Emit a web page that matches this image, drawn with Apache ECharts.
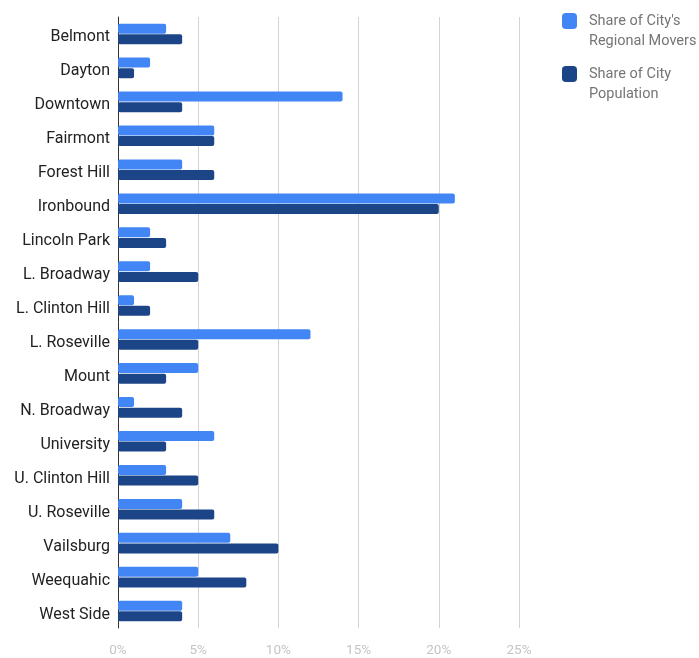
<!DOCTYPE html>
<html>
<head>
<meta charset="utf-8">
<script src="https://cdn.jsdelivr.net/npm/echarts@6/dist/echarts.min.js"></script>
<style>
  html, body { margin: 0; padding: 0; background: #fff; }
  #chart { width: 699px; height: 658px; }
</style>
</head>
<body>
<div id="chart"></div>
<script>
// Neighborhoods, top to bottom
const neighborhoods = [
  'Belmont', 'Dayton', 'Downtown', 'Fairmont', 'Forest Hill', 'Ironbound',
  'Lincoln Park', 'L. Broadway', 'L. Clinton Hill', 'L. Roseville', 'Mount',
  'N. Broadway', 'University', 'U. Clinton Hill', 'U. Roseville', 'Vailsburg',
  'Weequahic', 'West Side'
];

// Percent shares per neighborhood
const regionalMoversShare = [3, 2, 14, 6, 4, 21, 2, 2, 1, 12, 5, 1, 6, 3, 4, 7, 5, 4];
const populationShare     = [4, 1, 4, 6, 6, 20, 3, 5, 2, 5, 3, 4, 3, 5, 6, 10, 8, 4];

const seriesNames = ["Share of City's\nRegional Movers", 'Share of City\nPopulation'];

const chart = echarts.init(document.getElementById('chart'));

const barStyle = (color) => ({ color: color, borderRadius: 2 });

chart.setOption({
  animation: false,
  textStyle: { fontFamily: 'Roboto' },
  legend: {
    orient: 'vertical',
    left: 562,
    top: -9,
    padding: 0,
    itemWidth: 15,
    itemHeight: 16,
    itemGap: -7,
    icon: 'roundRect',
    // a blank leading row keeps the first text row level with the swatch
    formatter: (name) => '\n' + name,
    textStyle: { color: '#757575', fontSize: 14.5, lineHeight: 20, padding: [0, 0, 0, 7] },
    data: seriesNames
  },
  grid: { left: 118, right: 180, top: 17, bottom: 30, containLabel: false },
  xAxis: {
    type: 'value',
    min: 0,
    max: 25,
    interval: 5,
    axisLabel: { formatter: '{value}%', color: '#c4c4c4', fontSize: 13.5, margin: 16 },
    axisLine: { show: false },
    axisTick: { show: false },
    splitLine: { show: true, lineStyle: { color: '#d4d4d4', width: 1 } }
  },
  yAxis: {
    type: 'category',
    inverse: true,
    data: neighborhoods,
    axisLine: { show: true, lineStyle: { color: '#333', width: 1 } },
    axisTick: { show: false },
    axisLabel: {
      color: '#222', fontSize: 16, margin: 8,
      formatter: (v) => '{n|' + v + '}',
      rich: { n: { fontSize: 16, color: '#222', padding: [7, 0, 0, 0] } }
    }
  },
  series: [
    {
      name: seriesNames[0],
      type: 'bar',
      data: regionalMoversShare,
      barWidth: 10,
      barGap: '6%',
      itemStyle: barStyle('#4285f4')
    },
    {
      name: seriesNames[1],
      type: 'bar',
      data: populationShare,
      barWidth: 10,
      barGap: '6%',
      itemStyle: barStyle('#1c4587')
    }
  ]
});
</script>
</body>
</html>
